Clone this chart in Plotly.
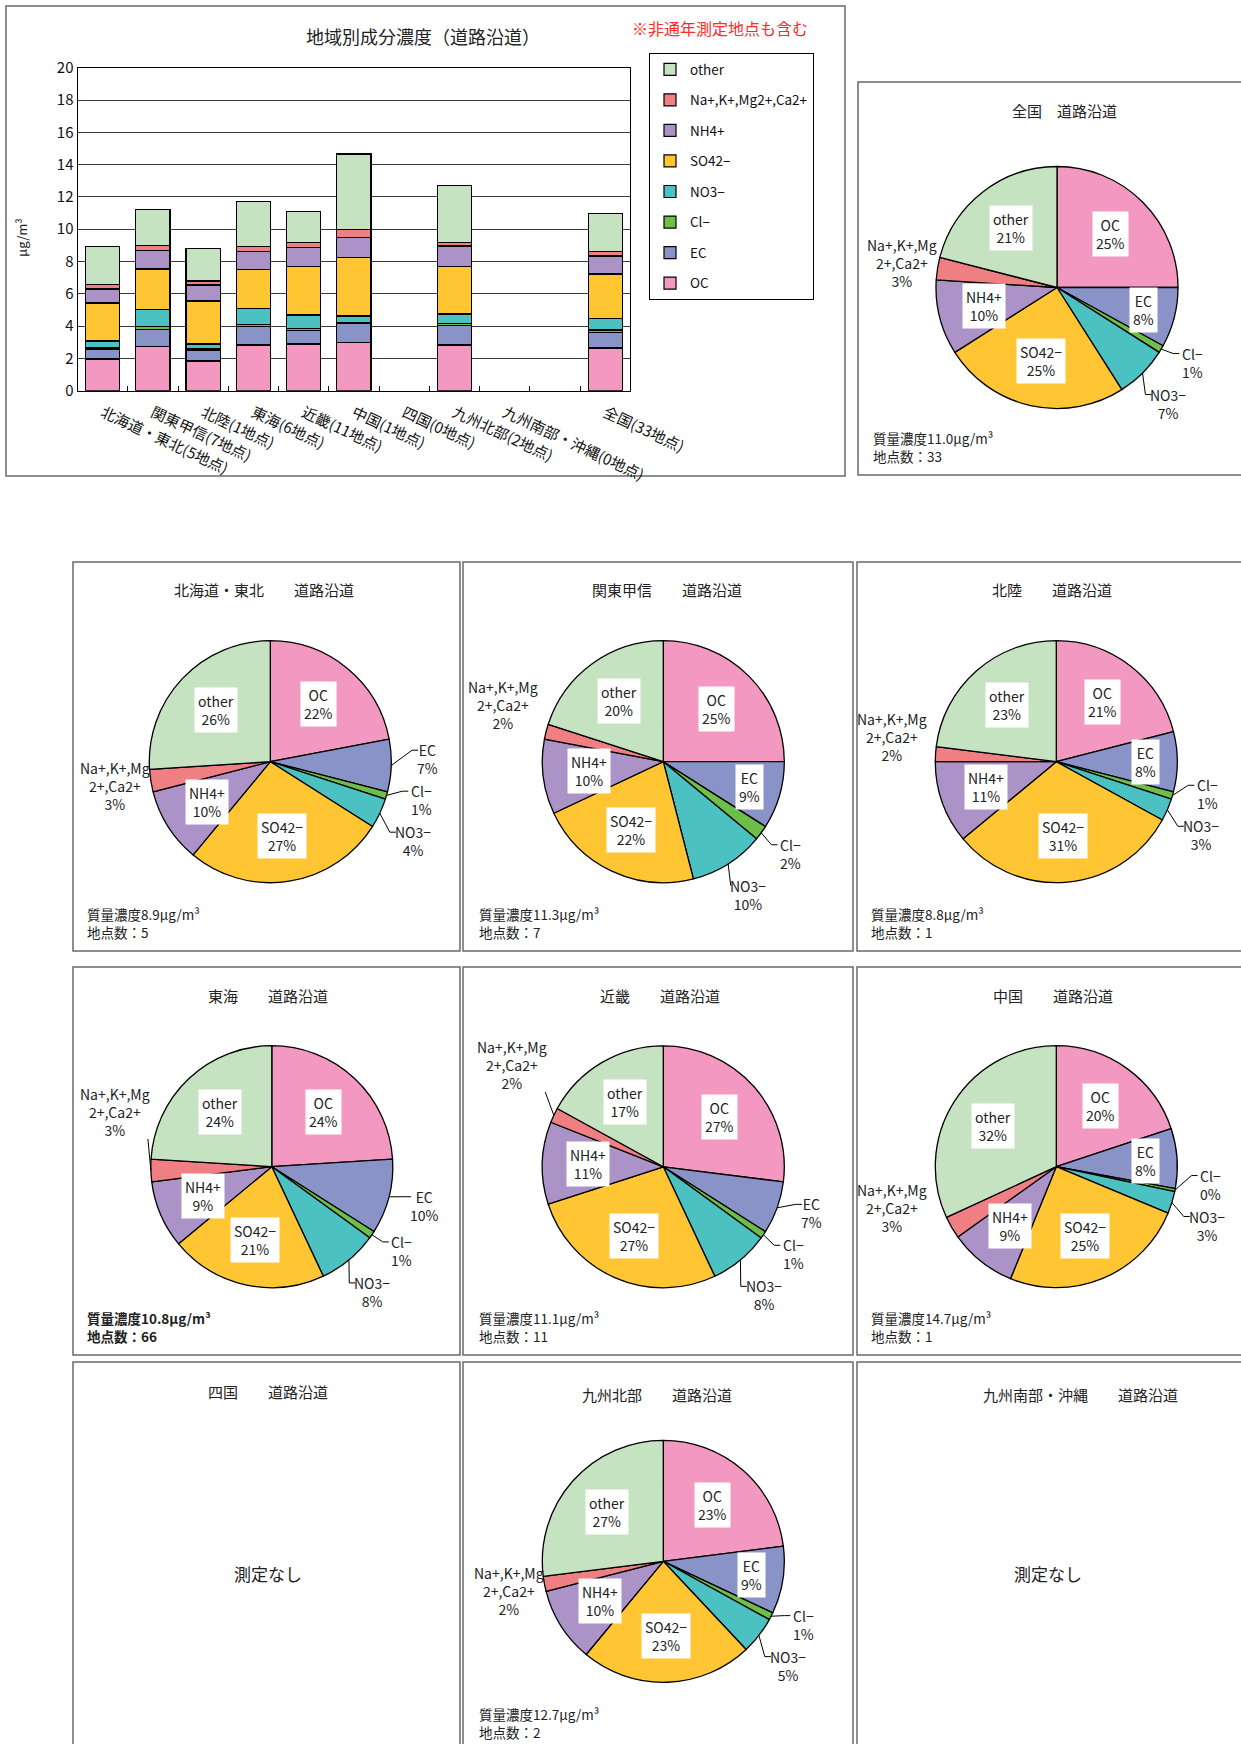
import math
import plotly.graph_objects as go

W, H = 1241, 1744
FONT = "Noto Sans CJK JP"

# ---------------- data ----------------
components = ["OC", "EC", "Cl−", "NO3−", "SO42−", "NH4+", "Na+,K+,Mg2+,Ca2+", "other"]
pie_names = ["OC", "EC", "Cl−", "NO3−", "SO42−", "NH4+", "Na+,K+,Mg<br>2+,Ca2+", "other"]
colors = ["#F398C0", "#8A93C8", "#6CC04A", "#4BC1C2", "#FFC533", "#AB93C8", "#F07F84", "#C5E3C0"]

# regional mean concentration (μg/m³), roadside sites
regions = ["北海道・東北(5地点)", "関東甲信(7地点)", "北陸(1地点)", "東海(6地点)", "近畿(11地点)",
           "中国(1地点)", "四国(0地点)", "九州北部(2地点)", "九州南部・沖縄(0地点)", "　", "全国(33地点)"]
oc_conc = [1.96, 2.75, 1.84, 2.83, 2.89, 2.97, None, 2.83, None, None, 2.64]
ec_conc = [0.62, 1.05, 0.68, 1.13, 0.83, 1.18, None, 1.19, None, None, 0.97]
cl_conc = [0.10, 0.18, 0.08, 0.15, 0.14, 0.05, None, 0.15, None, None, 0.15]
no3_conc = [0.40, 1.05, 0.29, 0.97, 0.83, 0.43, None, 0.58, None, None, 0.72]
so4_conc = [2.35, 2.50, 2.66, 2.43, 2.99, 3.62, None, 2.93, None, None, 2.74]
nh4_conc = [0.87, 1.15, 0.99, 1.10, 1.20, 1.25, None, 1.28, None, None, 1.12]
cation_conc = [0.30, 0.30, 0.25, 0.31, 0.28, 0.50, None, 0.22, None, None, 0.27]
other_conc = [2.32, 2.25, 2.02, 2.78, 1.92, 4.66, None, 3.51, None, None, 2.37]
bar_series = [oc_conc, ec_conc, cl_conc, no3_conc, so4_conc, nh4_conc, cation_conc, other_conc]

# composition (%) by region
pct_zenkoku = [25, 8, 1, 7, 25, 10, 3, 21]
pct_hokkaido_tohoku = [22, 7, 1, 4, 27, 10, 3, 26]
pct_kanto_koshin = [25, 9, 2, 10, 22, 10, 2, 20]
pct_hokuriku = [21, 8, 1, 3, 31, 11, 2, 23]
pct_tokai = [24, 10, 1, 8, 21, 9, 3, 24]
pct_kinki = [27, 7, 1, 8, 27, 11, 2, 17]
pct_chugoku = [20, 8, 0.4, 3, 25, 9, 3, 32]
pct_kyushu_north = [23, 9, 1, 5, 23, 10, 2, 27]

pie_regions = ["全国", "北海道・東北", "関東甲信", "北陸", "東海", "近畿", "中国", "九州北部"]
pie_pcts = [pct_zenkoku, pct_hokkaido_tohoku, pct_kanto_koshin, pct_hokuriku,
            pct_tokai, pct_kinki, pct_chugoku, pct_kyushu_north]
mass_conc = ["11.0", "8.9", "11.3", "8.8", "10.8", "11.1", "14.7", "12.7"]
site_count = ["33", "5", "7", "1", "66", "11", "1", "2"]

# ---------------- layout helpers ----------------
def px(x):
    return x / W


def py(y):
    return 1 - y / H


def note(x, y, text, size, color="#222", xanchor="center", **kw):
    d = dict(x=px(x), y=py(y), xref="paper", yref="paper", text=text, showarrow=False,
             xanchor=xanchor, yanchor="middle", font=dict(size=size, color=color))
    d.update(kw)
    return d


R = 121           # pie radius (px)
LFS = 14          # pie label font size
LH = LFS * 1.3    # line height

# pie panel geometry: centre, title position, footer position, EC label outside?
pie_layout = {
    "全国":       dict(c=(1057, 287.5), t=(1064, 111), f=(871, 447), title="全国　道路沿道", ec_out=False),
    "北海道・東北": dict(c=(270.3, 761.7), t=(264, 589), f=(85, 923), title="北海道・東北　　道路沿道", ec_out=True),
    "関東甲信":    dict(c=(663.3, 761.7), t=(667, 589), f=(477, 923), title="関東甲信　　道路沿道", ec_out=False),
    "北陸":       dict(c=(1056.3, 761.7), t=(1052, 589), f=(869, 923), title="北陸　　道路沿道", ec_out=False),
    "東海":       dict(c=(271.8, 1166.7), t=(268, 996), f=(85, 1327), title="東海　　道路沿道", ec_out=True),
    "近畿":       dict(c=(663.3, 1166.8), t=(660, 996), f=(477, 1327), title="近畿　　道路沿道", ec_out=True),
    "中国":       dict(c=(1056.3, 1166.7), t=(1053, 996), f=(869, 1327), title="中国　　道路沿道", ec_out=False),
    "九州北部":    dict(c=(663.3, 1561.3), t=(657, 1394), f=(477, 1723), title="九州北部　　道路沿道", ec_out=False),
}
# manual nudges for crowded outside labels (px)
label_nudge = {
    ("関東甲信", 6): (-8, -18),
    ("北陸", 6): (-7, -15),
    ("東海", 6): (0, -60),
    ("近畿", 6): (-9, -35),
    ("中国", 6): (-28, -38),
}
bold_footer = {"東海"}

panels = [
    (6, 6, 845, 476),
    (858, 82, 1260, 475),
    (73, 562, 460, 951), (463, 562, 853, 951), (857, 562, 1260, 951),
    (73, 967, 460, 1355), (463, 967, 853, 1355), (857, 967, 1260, 1355),
    (73, 1362, 460, 1760), (463, 1362, 853, 1760), (857, 1362, 1260, 1760),
]

fig = go.Figure()

# ---------------- stacked bars ----------------
for k, (comp, col, vals) in enumerate(zip(components, colors, bar_series)):
    fig.add_trace(go.Bar(
        x=regions, y=vals, name=comp, legendgroup=comp, legendrank=100 - k,
        marker=dict(color=col, line=dict(color="black", width=1.2)),
        xaxis="x", yaxis="y",
        hovertemplate="%{x}<br>" + comp + ": %{y}<extra></extra>",
    ))

annotations = []
shapes = []

for (x0, y0, x1, y1) in panels:
    shapes.append(dict(type="rect", xref="paper", yref="paper", x0=px(x0), x1=px(x1), y0=py(y1), y1=py(y0),
                       line=dict(color="#6a6a6a", width=1.5), layer="below"))


def text_width(t):
    lines = t.replace("<br>", "\n").split("\n")
    return max(len(l) for l in lines) * 7.4


# ---------------- pies ----------------
for name, pct in zip(pie_regions, pie_pcts):
    g = pie_layout[name]
    cx, cy = g["c"]
    fig.add_trace(go.Pie(
        values=pct, labels=components, sort=False, direction="clockwise", rotation=0,
        marker=dict(colors=colors, line=dict(color="black", width=1.3)),
        textinfo="none", showlegend=False,
        domain=dict(x=[px(cx - R), px(cx + R)], y=[py(cy + R), py(cy - R)]),
        hovertemplate="%{label}: %{value:.0f}%<extra></extra>",
    ))

    total = sum(pct)
    acc = 0
    right, left = [], []
    for i, v in enumerate(pct):
        a = math.radians((acc + v / 2) / total * 360)
        acc += v
        text = f"{pie_names[i]}<br>{v:.0f}%"
        outside = i in (2, 3, 6) or (i == 1 and g["ec_out"])
        if not outside:
            k = 0.74 if i == 1 else 0.62
            annotations.append(note(cx + k * R * math.sin(a), cy - k * R * math.cos(a), text, LFS,
                                    bgcolor="white", borderpad=3))
        else:
            dx, dy = label_nudge.get((name, i), (0, 0))
            e = dict(x=cx + 1.3 * R * math.sin(a) + dx, y=cy - 1.3 * R * math.cos(a) + dy,
                     ex=cx + R * math.sin(a), ey=cy - R * math.cos(a),
                     text=text, n=text.count("<br>") + 1, w=text_width(text))
            (right if math.sin(a) > 0 else left).append(e)

    # spread right-hand labels so they do not overlap
    right.sort(key=lambda e: e["y"])
    for _ in range(40):
        for j in range(len(right) - 1):
            gap = right[j + 1]["y"] - right[j]["y"]
            if gap < 41:
                d = (41 - gap) / 2
                right[j]["y"] -= d
                right[j + 1]["y"] += d

    for e in right + left:
        annotations.append(note(e["x"], e["y"], e["text"], LFS, align="center"))
    for e in right:
        lx = e["x"] - e["w"] / 2
        fy = e["y"] - (e["n"] - 1) * LH / 2
        pts = [(e["ex"], e["ey"])]
        if e["ex"] < lx - 8:
            pts.append((lx - 8, fy))
        pts.append((lx - 2, fy))
        path = "M " + " L ".join(f"{px(x)} {py(y)}" for x, y in pts)
        shapes.append(dict(type="path", xref="paper", yref="paper", path=path,
                           line=dict(color="black", width=1)))
    for e in left:
        half_h = e["n"] * LH / 2
        bottom = e["y"] + half_h
        if bottom < e["ey"] - 10:
            bx = min(max(e["ex"], e["x"] - e["w"] / 2), e["x"] + e["w"] / 2)
            path = f"M {px(e['ex'])} {py(e['ey'])} L {px(bx)} {py(bottom)}"
            shapes.append(dict(type="path", xref="paper", yref="paper", path=path,
                               line=dict(color="black", width=1)))

    # panel title
    tx, ty = g["t"]
    annotations.append(note(tx, ty, g["title"], 15))

# footers
for k, name in enumerate(pie_regions):
    fx, fy = pie_layout[name]["f"]
    foot = f"質量濃度{mass_conc[k]}μg/m³<br>地点数：{site_count[k]}"
    if name in bold_footer:
        foot = f"<b>{foot}</b>"
    annotations.append(note(fx, fy, foot, 13.5, xanchor="left", align="left"))

# panels without measurements
for title, (tx, ty), (mx, my) in [("四国　　道路沿道", (268, 1391), (268, 1573)),
                                  ("九州南部・沖縄　　道路沿道", (1080, 1394), (1048, 1573))]:
    annotations.append(note(tx, ty, title, 15))
    annotations.append(note(mx, my, "測定なし", 17))

# bar chart texts
annotations.append(note(423, 36, "地域別成分濃度（道路沿道）", 18))
annotations.append(note(720, 28, "※非通年測定地点も含む", 16, color="#FF2a2a"))
annotations.append(note(22, 238, "μg/m³", 13, textangle=-90))

fig.update_layout(
    template="none",
    width=W, height=H,
    margin=dict(l=0, r=0, t=0, b=0),
    paper_bgcolor="white", plot_bgcolor="white",
    font=dict(family=FONT, color="#222"),
    barmode="stack", bargap=0.32,
    xaxis=dict(domain=[px(77.5), px(630.4)], anchor="y", type="category",
               tickangle=25, tickfont=dict(size=15, color="#111"), ticklabelstandoff=7,
               showline=True, linecolor="black", linewidth=1, mirror=True,
               ticks="inside", ticklen=5, tickcolor="black", tickson="boundaries",
               showgrid=False),
    yaxis=dict(domain=[py(390.7), py(67.7)], anchor="x", range=[0, 20], dtick=2,
               tickfont=dict(size=15, color="#111"),
               showline=True, linecolor="black", linewidth=1, mirror=True,
               showgrid=True, gridcolor="#3a3a3a", gridwidth=1, zeroline=False, ticks=""),
    legend=dict(x=px(649), y=py(53), xanchor="left", yanchor="top",
                bordercolor="black", borderwidth=1, bgcolor="white",
                traceorder="grouped", tracegroupgap=10, itemwidth=30,
                font=dict(size=13.5, color="#111")),
    annotations=annotations,
    shapes=shapes,
)

fig.write_html("out.html")
